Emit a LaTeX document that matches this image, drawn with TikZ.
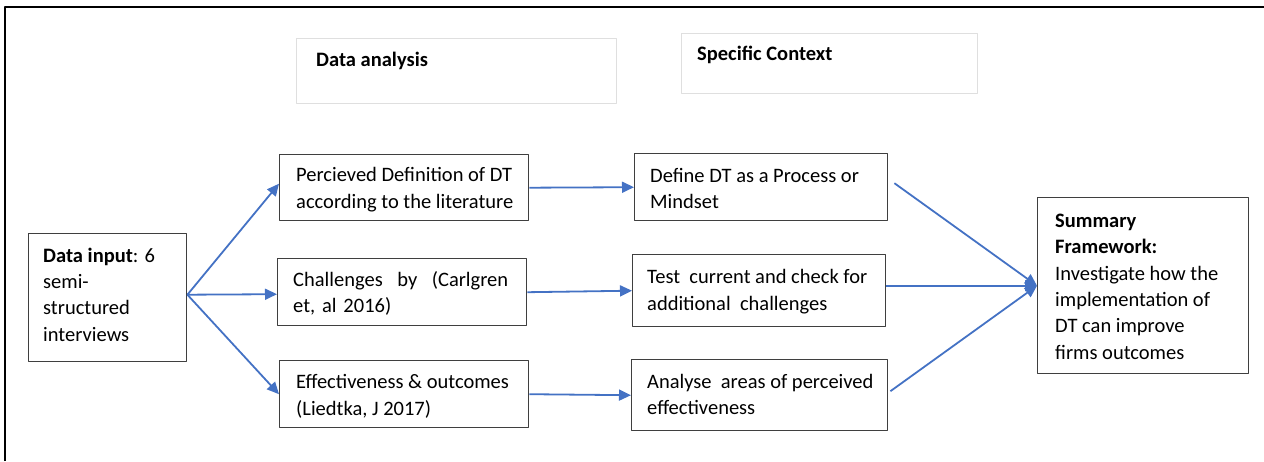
\documentclass[tikz,border=0pt]{standalone}
\usepackage{fontspec}
\setmainfont{Carlito}
\usetikzlibrary{arrows.meta}
\definecolor{arrblue}{HTML}{4472C4}
\definecolor{boxgray}{HTML}{3F3F3F}
\begin{document}
\begin{tikzpicture}[x=1pt,y=-1pt,line join=round,>={Triangle[length=12pt,width=11pt]}]
		\tikzset{box/.style={draw=boxgray,line width=1.4pt,anchor=north west,inner sep=0pt},
			txt/.style={anchor=west,align=left,inner sep=0pt,font=\fontsize{20.5}{26.3}\selectfont},
			hdr/.style={draw=gray!25,line width=1pt,anchor=north west,inner sep=0pt},
			hdrtext/.style={anchor=west,inner sep=0pt,font=\fontsize{20.5}{26.3}\selectfont\bfseries},
			arr/.style={->,draw=arrblue,line width=1.8pt}}
		\useasboundingbox (0,0) rectangle (1264,461);
		\draw[line width=2.5pt] (5,461)--(5,7)--(1264,7);
		\node[hdr,minimum width=320pt,minimum height=65pt] (dana) at (296,38) {};
		\node[hdrtext] (dana-t) at ([xshift=20pt,yshift=-23pt]dana.north west) {Data analysis};
		\node[hdr,minimum width=296pt,minimum height=60pt] (ctx) at (681,33) {};
		\node[hdrtext] (ctx-t) at ([xshift=16pt,yshift=-22pt]ctx.north west) {Specific Context};
		\node[box,minimum width=158pt,minimum height=128pt] (input) at (28,233) {};
		\node[txt] (input-t) at ([xshift=15pt,yshift=3pt]input.west) {\textbf{Data input}: 6\\semi-\\structured\\interviews};
		\node[box,minimum width=249pt,minimum height=66pt] (perc) at (279,154) {};
		\node[txt] (perc-t) at ([xshift=17pt,yshift=-2pt]perc.west) {Percieved Definition of DT\\according to the literature};
		\node[box,minimum width=249pt,minimum height=67pt] (chal) at (277,258) {};
		\node[txt,text width=215pt] (chal-t) at ([xshift=16pt,yshift=-1pt]chal.west) {Challenges\hfill by\hfill (Carlgren\\et, al 2016)};
		\node[box,minimum width=249pt,minimum height=67pt] (effe) at (279,360) {};
		\node[txt] (effe-t) at ([xshift=17pt,yshift=-2pt]effe.west) {Effectiveness \& outcomes\\(Liedtka, J 2017)};
		\node[box,minimum width=253pt,minimum height=67pt] (defi) at (634,153) {};
		\node[txt] (defi-t) at ([xshift=16pt,yshift=-1pt]defi.west) {Define DT as a Process or\\Mindset};
		\node[box,minimum width=253pt,minimum height=72pt] (test) at (632,254) {};
		\node[txt] (test-t) at ([xshift=15pt,yshift=-1pt]test.west) {Test\ \ current and check for\\additional\ \ challenges};
		\node[box,minimum width=256pt,minimum height=71pt] (anal) at (631,359) {};
		\node[txt] (anal-t) at ([xshift=16pt,yshift=1pt]anal.west) {Analyse\ \ areas of perceived\\effectiveness};
		\node[box,minimum width=211pt,minimum height=176pt] (summ) at (1037,197) {};
		\node[txt] (summ-t) at ([xshift=18pt,yshift=-1pt]summ.west) {\textbf{Summary}\\\textbf{Framework:}\\Investigate how the\\implementation of\\DT can improve\\firms outcomes};
		\draw[arr] ([yshift=3pt]input.east)--([yshift=4pt]perc.west);
		\draw[arr] ([yshift=3pt]input.east)--([yshift=-2pt]chal.west);
		\draw[arr] ([yshift=3pt]input.east)--(effe.west);
		\draw[arr] (perc.east)--(defi.west);
		\draw[arr] (chal.east)--(test.west);
		\draw[arr] (effe.east)--(anal.west);
		\draw[arr] ([shift={(6pt,4pt)}]defi.east)--(summ.west);
		\draw[arr] (test.east |- summ.west)--(summ.west);
		\draw[arr] ([shift={(2pt,4pt)}]anal.east)--(summ.west);
		
		\end{tikzpicture}
\end{document}
